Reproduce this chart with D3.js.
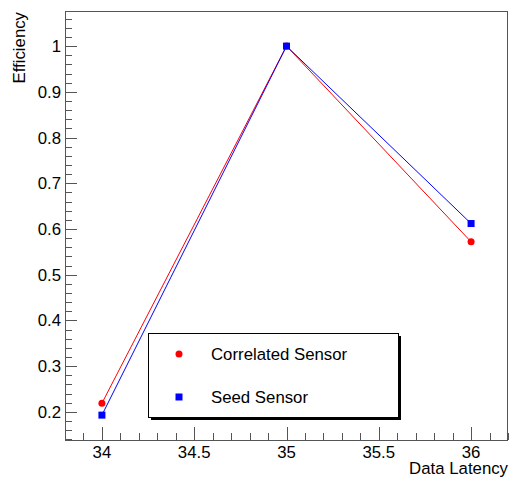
<!DOCTYPE html>
<html>
<head>
<meta charset="utf-8">
<script src="https://cdn.jsdelivr.net/npm/d3@7"></script>
<style>
  body { margin: 0; background: #fff; }
  text { font-family: "Liberation Sans", Arial, sans-serif; }
</style>
</head>
<body>
<svg id="chart" width="509" height="481"></svg>
<script>
// data
const latency = [34, 35, 36];
const correlated = [0.219, 1.0, 0.572];
const seed = [0.193, 1.0, 0.612];
const xTicks = [34, 34.5, 35, 35.5, 36];
const yTicks = [0.2, 0.3, 0.4, 0.5, 0.6, 0.7, 0.8, 0.9, 1];

const svg = d3.select("#chart");
const padL = 65, padR = 508, padT = 11, padB = 440;
const fs = 16.8;

const x = d3.scaleLinear().domain([33.8, 36.2]).range([padL, padR]);
const y = d3.scaleLinear().domain([0.1386, 1.0768]).range([padB, padT]);

svg.append("rect").attr("width", 509).attr("height", 481).attr("fill", "#fff");

// frame
svg.append("rect")
  .attr("x", padL + 0.5).attr("y", padT + 0.5)
  .attr("width", padR - padL - 1).attr("height", padB - padT)
  .attr("fill", "none").attr("stroke", "#555").attr("stroke-width", 1);

// x ticks (major every 0.5, minor every 0.1)
const xMinor = d3.range(33.8, 36.2001, 0.1).map(v => +v.toFixed(2));
svg.append("g").selectAll("line")
  .data(xMinor)
  .enter().append("line")
  .attr("x1", d => Math.round(x(d)) + 0.5)
  .attr("x2", d => Math.round(x(d)) + 0.5)
  .attr("y1", padB)
  .attr("y2", d => xTicks.some(t => Math.abs(t - d) < 1e-6) ? padB - 13 : padB - 7)
  .attr("stroke", "#555");

svg.append("g").selectAll("text")
  .data(xTicks)
  .enter().append("text")
  .attr("x", d => x(d))
  .attr("y", 458)
  .attr("text-anchor", "middle")
  .attr("font-size", fs)
  .text(d => d);

// y ticks (major 0.1, minor 0.02)
const yMinor = d3.range(0.14, 1.0768, 0.02).map(v => +v.toFixed(2));
svg.append("g").selectAll("line")
  .data(yMinor)
  .enter().append("line")
  .attr("y1", d => Math.round(y(d)) + 0.5)
  .attr("y2", d => Math.round(y(d)) + 0.5)
  .attr("x1", padL)
  .attr("x2", d => yTicks.some(t => Math.abs(t - d) < 1e-6) ? padL + 12 : padL + 7)
  .attr("stroke", "#555");

svg.append("g").selectAll("text")
  .data(yTicks)
  .enter().append("text")
  .attr("x", 61)
  .attr("y", d => y(d) + 6)
  .attr("text-anchor", "end")
  .attr("font-size", fs)
  .text(d => d);

// axis titles
svg.append("text")
  .attr("x", padR)
  .attr("y", 474)
  .attr("text-anchor", "end")
  .attr("font-size", fs)
  .text("Data Latency");

svg.append("text")
  .attr("transform", "translate(25," + (padT + 1) + ") rotate(-90)")
  .attr("text-anchor", "end")
  .attr("font-size", fs)
  .text("Efficiency");

// series
const line = d3.line().x(d => x(d[0])).y(d => y(d[1]));
const corrPts = latency.map((v, i) => [v, correlated[i]]);
const seedPts = latency.map((v, i) => [v, seed[i]]);

svg.append("path").datum(corrPts).attr("d", line)
  .attr("fill", "none").attr("stroke", "#ff0000").attr("stroke-width", 1);
svg.append("path").datum(seedPts).attr("d", line)
  .attr("fill", "none").attr("stroke", "#0000ff").attr("stroke-width", 1);

svg.append("g").selectAll("circle")
  .data(corrPts)
  .enter().append("circle")
  .attr("cx", d => x(d[0])).attr("cy", d => y(d[1]))
  .attr("r", 3.5).attr("fill", "#ff0000");

svg.append("g").selectAll("rect")
  .data(seedPts)
  .enter().append("rect")
  .attr("x", d => x(d[0]) - 3.5).attr("y", d => y(d[1]) - 3.5)
  .attr("width", 7).attr("height", 7).attr("fill", "#0000ff");

// legend
const lg = svg.append("g");
lg.append("rect").attr("x", 151).attr("y", 336).attr("width", 250).attr("height", 84).attr("fill", "#000");
lg.append("rect").attr("x", 148.5).attr("y", 333.5).attr("width", 250).attr("height", 84)
  .attr("fill", "#fff").attr("stroke", "#000").attr("stroke-width", 1);
lg.append("circle").attr("cx", 179).attr("cy", 354).attr("r", 3.5).attr("fill", "#ff0000");
lg.append("rect").attr("x", 175.5).attr("y", 393.5).attr("width", 7).attr("height", 7).attr("fill", "#0000ff");
lg.append("text").attr("x", 211).attr("y", 360).attr("font-size", fs).text("Correlated Sensor");
lg.append("text").attr("x", 211).attr("y", 403).attr("font-size", fs).text("Seed Sensor");
</script>
</body>
</html>
